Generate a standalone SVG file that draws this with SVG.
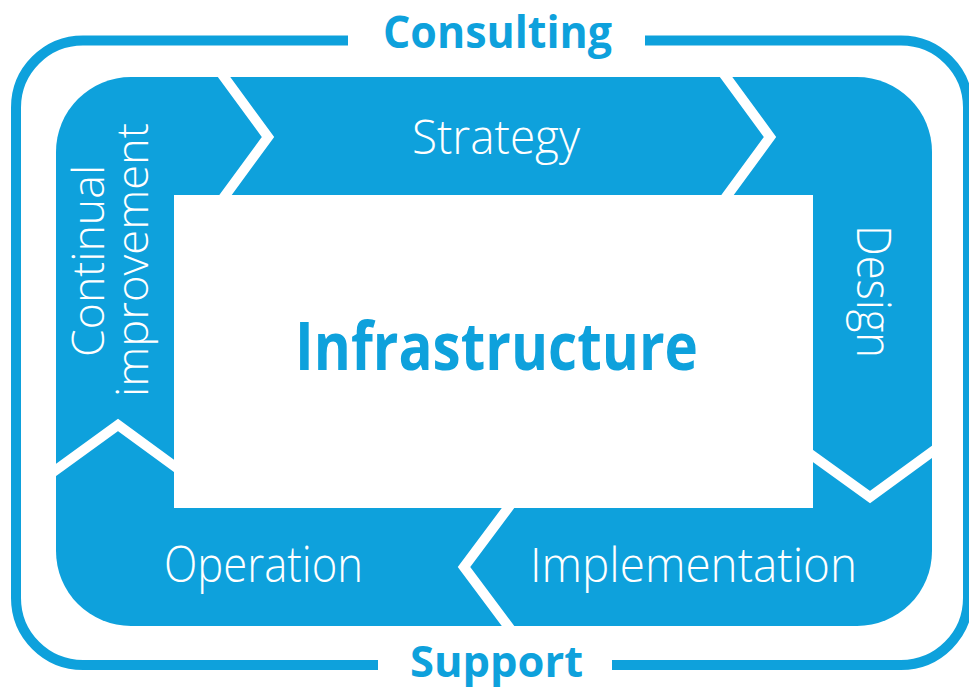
<svg xmlns="http://www.w3.org/2000/svg" width="969" height="689" viewBox="0 0 969 689">
<style>
.blue{fill:#0ea1dc}
.frame{fill:none;stroke:#0ea1dc;stroke-width:10}
.sep{fill:none;stroke:#ffffff;stroke-width:10;stroke-linejoin:miter}
.lbl{fill:#ffffff;font-family:"Open Sans","Liberation Sans",sans-serif;font-weight:300}
.bold{fill:#0ea1dc;font-family:"Open Sans","Liberation Sans",sans-serif;font-weight:700}
</style>
<rect width="969" height="689" fill="#ffffff"/>
<g id="frame">
<path class="frame" d="M645 40.5 H901 A67 67 0 0 1 968 107.5 V598 A67 67 0 0 1 901 665 H612"/>
<path class="frame" d="M378 665 H83 A67 67 0 0 1 16 598 V107.5 A67 67 0 0 1 83 40.5 H348"/>
<text class="bold" x="383" y="48" font-size="44" textLength="229" lengthAdjust="spacingAndGlyphs">Consulting</text>
<text class="bold" x="410" y="677" font-size="43" textLength="173" lengthAdjust="spacingAndGlyphs">Support</text>
</g>
<g id="cycle">
<rect class="blue" x="56" y="77" width="876" height="549" rx="75" ry="75"/>
<rect x="174" y="195" width="639" height="313" fill="#ffffff"/>
</g>
<g id="connectors">
<polyline class="sep" points="218.2,69 268,137 218.2,205"/>
<polyline class="sep" points="720.2,69 770,137 720.2,205"/>
<polyline class="sep" points="805,450.3 870,497 940,446"/>
<polyline class="sep" points="514,500 464,567 514,634"/>
<polyline class="sep" points="48,475.8 118,425 182,471.8"/>
</g>
<g id="strategy"><text class="lbl" x="412" y="154" font-size="47" textLength="168" lengthAdjust="spacingAndGlyphs">Strategy</text></g>
<g id="design"><text class="lbl" transform="translate(857,225) rotate(90)" font-size="47" textLength="133" lengthAdjust="spacingAndGlyphs">Design</text></g>
<g id="implementation"><text class="lbl" x="530" y="582" font-size="48" textLength="327" lengthAdjust="spacingAndGlyphs">Implementation</text></g>
<g id="operation"><text class="lbl" x="164" y="582" font-size="49" textLength="199" lengthAdjust="spacingAndGlyphs">Operation</text></g>
<g id="continual-improvement">
<text class="lbl" transform="translate(104,357) rotate(-90)" font-size="44" textLength="192" lengthAdjust="spacingAndGlyphs">Continual</text>
<text class="lbl" transform="translate(148,397) rotate(-90)" font-size="44" textLength="274" lengthAdjust="spacingAndGlyphs">improvement</text>
</g>
<g id="infrastructure"><text class="bold" x="295" y="370" font-size="66" textLength="403" lengthAdjust="spacingAndGlyphs">Infrastructure</text></g>
</svg>
